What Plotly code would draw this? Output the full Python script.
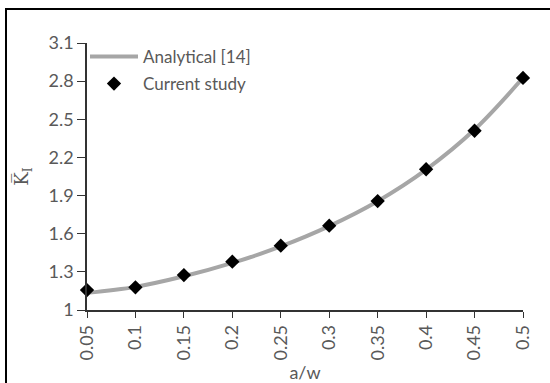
import plotly.graph_objects as go

aw = [0.05, 0.1, 0.15, 0.2, 0.25, 0.3, 0.35, 0.4, 0.45, 0.5]
tick_labels = ["0.05", "0.1", "0.15", "0.2", "0.25", "0.3", "0.35", "0.4", "0.45", "0.5"]
analytical = [1.135, 1.182, 1.265, 1.370, 1.500, 1.660, 1.856, 2.104, 2.419, 2.826]
current = [1.157, 1.178, 1.275, 1.380, 1.506, 1.663, 1.857, 2.107, 2.410, 2.825]
y_ticks = [1, 1.3, 1.6, 1.9, 2.2, 2.5, 2.8, 3.1]

FONT = "Lato"
GRAY = "#595959"
FS = 18

L, R, T, B = 87, 27, 43, 73
W, H = 550, 383
pw, ph = W - L - R, H - T - B

def px(xp):
    return (xp - L) / pw

def py(yp):
    return (H - B - yp) / ph

fig = go.Figure()
fig.add_trace(go.Scatter(
    x=aw, y=analytical, mode="lines", name="Analytical [14]",
    line=dict(color="#A6A6A6", width=4, shape="spline"),
    cliponaxis=False, legend="legend",
))
fig.add_trace(go.Scatter(
    x=aw, y=current, mode="markers", name="Current study",
    marker=dict(symbol="diamond", size=11, color="black"),
    cliponaxis=False, legend="legend2",
))

fig.add_shape(type="rect", xref="paper", yref="paper",
              x0=px(6), x1=px(553), y0=py(386), y1=py(9),
              line=dict(color="black", width=2), layer="below")

leg_common = dict(xanchor="left", yanchor="middle", bgcolor="rgba(0,0,0,0)",
                  font=dict(size=17, color=GRAY), itemwidth=48)

fig.update_layout(
    width=W, height=H,
    margin=dict(l=L, r=R, t=T, b=B, autoexpand=False),
    paper_bgcolor="white", plot_bgcolor="white",
    font=dict(family=FONT, size=FS, color=GRAY),
    showlegend=True,
    legend=dict(x=px(85), y=py(57), **leg_common),
    legend2=dict(x=px(85), y=py(84), **leg_common),
    xaxis=dict(
        range=[0.05, 0.5], tickvals=aw, ticktext=tick_labels,
        tickangle=-90, ticks="outside", ticklen=6, tickcolor="#333",
        showline=True, linecolor="#333", linewidth=1.5,
        showgrid=False, zeroline=False, automargin=False,
        title=dict(text="a/w", standoff=2, font=dict(size=FS, color=GRAY)),
    ),
    yaxis=dict(
        range=[1, 3.1], tickvals=y_ticks, ticktext=[f"{v:g}" for v in y_ticks],
        ticks="outside", ticklen=8, tickcolor="#333",
        showline=True, linecolor="#333", linewidth=1.5,
        showgrid=False, zeroline=False, automargin=False,
        title=dict(text="K\u0305<sub>I</sub>", standoff=15,
                   font=dict(family="DejaVu Serif", size=18, color=GRAY)),
    ),
)

fig.write_html("out.html")
